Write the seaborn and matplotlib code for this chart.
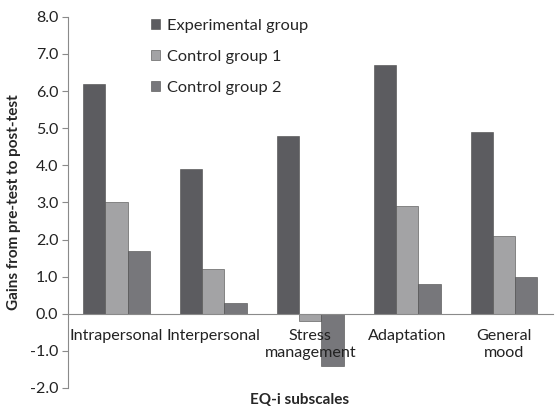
import matplotlib
matplotlib.use("Agg")
import matplotlib.pyplot as plt
import seaborn as sns
import pandas as pd

categories = ["Intrapersonal", "Interpersonal", "Stress\nmanagement", "Adaptation", "General\nmood"]
groups = ["Experimental group", "Control group 1", "Control group 2"]
experimental = [6.2, 3.9, 4.8, 6.7, 4.9]
control1 = [3.0, 1.2, -0.2, 2.9, 2.1]
control2 = [1.7, 0.3, -1.4, 0.8, 1.0]
y_ticks = [-2.0, -1.0, 0.0, 1.0, 2.0, 3.0, 4.0, 5.0, 6.0, 7.0, 8.0]

rows = []
for g, vals in zip(groups, [experimental, control1, control2]):
    for c, v in zip(categories, vals):
        rows.append({"cat": c, "group": g, "val": v})
df = pd.DataFrame(rows)

sns.set_style("white")
plt.rcParams['font.family'] = ['Lato', 'DejaVu Sans']

colors = ["#5c5c60", "#a3a3a5", "#77777b"]
fig = plt.figure(figsize=(5.55, 4.11), dpi=100)
ax = fig.add_axes([0.1225, 0.056, 0.873, 0.903])
sns.barplot(data=df, x="cat", y="val", hue="group", palette=colors, width=0.69,
            ax=ax, saturation=1, edgecolor="#4a4a4a", linewidth=0.4, legend=True)
ax.set_axisbelow(False)

ax.set_ylim(-2, 8)
ax.set_yticks(y_ticks)
ax.set_yticklabels([f"{t:.1f}" for t in y_ticks], fontsize=11.5, color="#222222")
ax.set_xlim(-0.5, 4.5)
for s in ["top", "right"]:
    ax.spines[s].set_visible(False)
ax.spines["left"].set_color("#8a8a8a")
ax.spines["bottom"].set_color("#8a8a8a")
ax.spines["bottom"].set_position(("data", 0))
ax.tick_params(axis="y", length=4, color="#8a8a8a", direction="out", left=True, pad=3)
ax.tick_params(axis="x", length=0, pad=11, labelsize=11.6, labelcolor="#222222")
for lbl in ax.get_xticklabels():
    lbl.set_linespacing(1.25)
ax.set_xlabel("")
ax.set_ylabel("Gains from pre-test to post-test", fontsize=11, fontweight="bold", labelpad=6)
fig.text(0.54, 0.027, "EQ-i subscales", ha="center", va="center", fontsize=11, fontweight="bold")

leg = ax.legend(loc="upper left", bbox_to_anchor=(0.14, 1.035), frameon=False,
                fontsize=11.8, labelspacing=1.05, handlelength=0.6, handleheight=0.6,
                handletextpad=0.4)
plt.savefig("out.png", dpi=100)
